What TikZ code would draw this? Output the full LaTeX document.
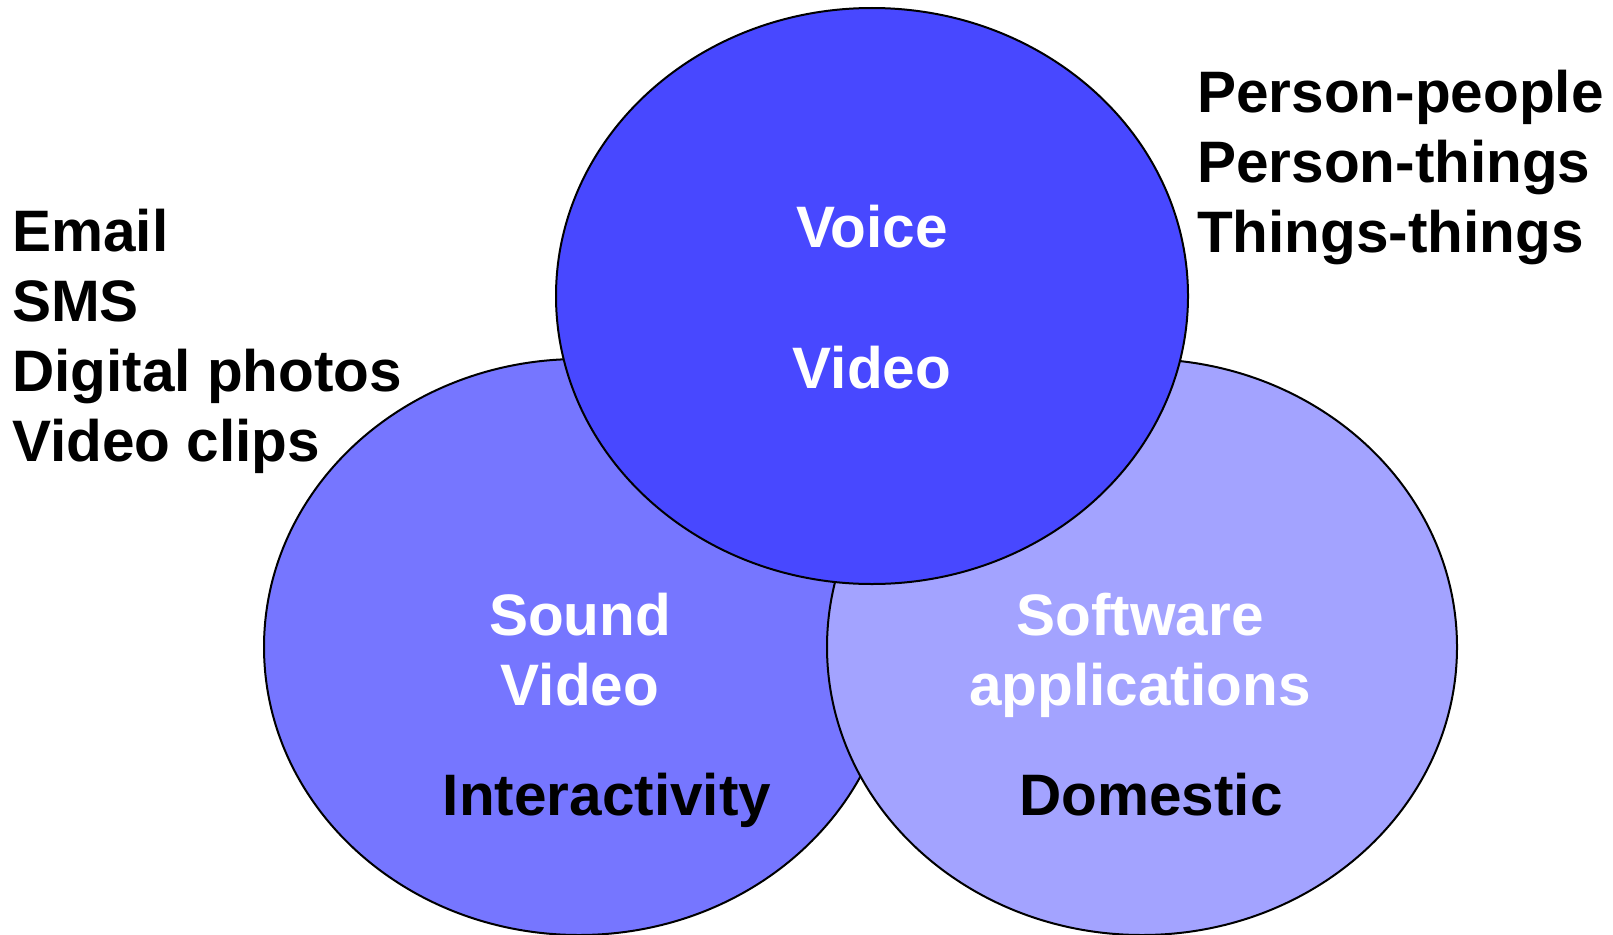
\documentclass[tikz,border=0pt]{standalone}
\usepackage{fontspec}
\setmainfont{Liberation Sans}
\definecolor{voiceblue}{RGB}{72,72,255}
\definecolor{soundblue}{RGB}{118,118,255}
\definecolor{softblue}{RGB}{163,163,255}
\tikzset{
  lbl/.style={font=\fontsize{58.5}{70}\selectfont\bfseries, inner sep=0pt},
  inlbl/.style={lbl, text=white, anchor=base},
  oval/.style={line width=2pt, draw=black}
}

\begin{document}
\begin{tikzpicture}[x=1pt,y=-1pt]
	\useasboundingbox (0,0) rectangle (1613,934);
	
	% the three ovals
	\filldraw[oval, fill=soundblue] (579,647) ellipse [x radius=315, y radius=288];
	\filldraw[oval, fill=softblue] (1142,647) ellipse [x radius=315, y radius=288];
	\filldraw[oval, fill=voiceblue] (872,296) ellipse [x radius=316, y radius=288];
	
	% text inside
	\node[inlbl] (voice) at (872,247) {Voice};
	\node[inlbl] (video) at (872,388) {Video};
	\node[inlbl] (sound) at (580,635) {Sound};
	\node[inlbl] (svideo) at (580,705) {Video};
	\node[inlbl, text=black] (inter) at (607,815) {Interactivity};
	\node[inlbl] (soft) at (1140,635) {Software};
	\node[inlbl] (appl) at (1140,705) {applications};
	\node[inlbl, text=black] (dom) at (1151,815) {Domestic};
	
	% lists outside
	\node[lbl, anchor=base west] (email) at (12,251) {Email};
	\node[lbl, anchor=base west] (sms) at (12,321) {SMS};
	\node[lbl, anchor=base west] (photos) at (12,391) {Digital photos};
	\node[lbl, anchor=base west] (clips) at (12,461) {Video clips};
	
	\node[lbl, anchor=base west] (pp) at (1197,112) {Person-people};
	\node[lbl, anchor=base west] (pt) at (1197,182) {Person-things};
	\node[lbl, anchor=base west] (tt) at (1197,252) {Things-things};
\end{tikzpicture}
\end{document}
